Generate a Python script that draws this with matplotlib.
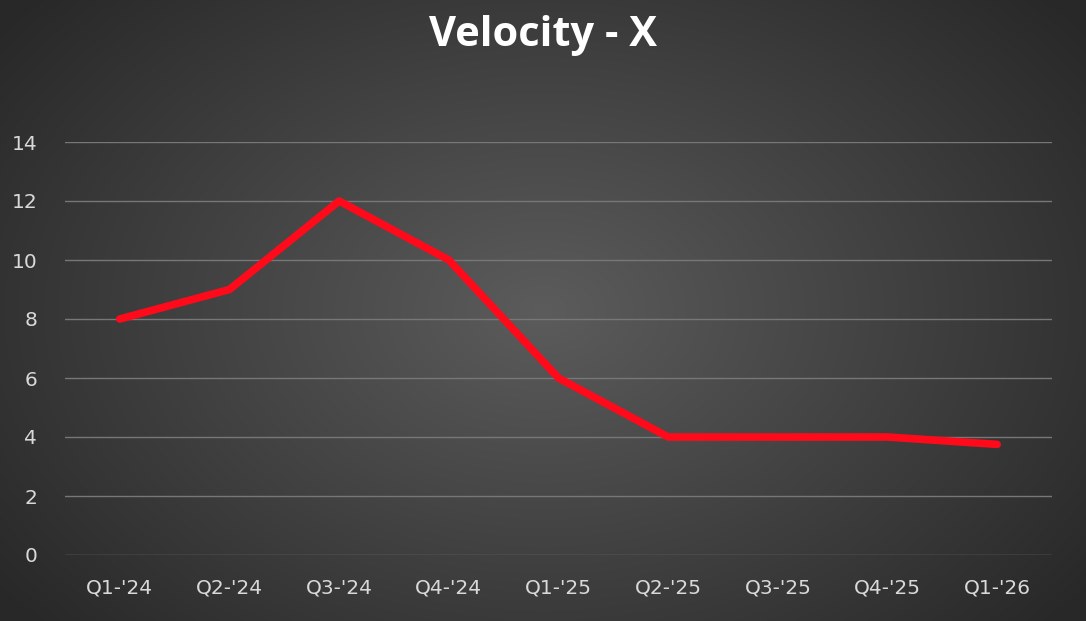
import numpy as np
import matplotlib
matplotlib.use("Agg")
import matplotlib.pyplot as plt

categories = ["Q1-'24","Q2-'24","Q3-'24","Q4-'24","Q1-'25","Q2-'25","Q3-'25","Q4-'25","Q1-'26"]
values = [8, 9, 12, 10, 6, 4, 4, 4, 3.75]
yticks = [0, 2, 4, 6, 8, 10, 12, 14]

W, H = 1086, 621
fig = plt.figure(figsize=(W/100, H/100), dpi=100)

bg = fig.add_axes([0, 0, 1, 1])
yy, xx = np.mgrid[0:H, 0:W]
r = np.sqrt(((xx - W/2)/(W*0.62))**2 + ((yy - H/2)/(H*0.75))**2)
r = np.clip(r, 0, 1)
c = 0.36 - 0.20*r
img = np.dstack([c, c, c])
bg.imshow(img, aspect='auto', extent=[0, 1, 0, 1])
bg.axis('off')

ax = fig.add_axes([65/W, 66/H, 987/W, 413/H])
ax.patch.set_alpha(0)
x = np.arange(len(categories))
ax.plot(x, values, color='#ff0a1a', lw=5.5, solid_capstyle='round', solid_joinstyle='round', zorder=3)
ax.set_xlim(-0.5, len(categories)-0.5)
ax.set_ylim(0, 14)
ax.set_yticks(yticks)
ax.set_xticks(x)
ax.set_xticklabels(categories)
ax.grid(axis='y', color='#777777', lw=1)
ax.tick_params(colors='#d9d9d9', labelsize=14.5, length=0, pad=17)
ax.tick_params(axis='y', pad=20)
for s in ax.spines.values():
    s.set_visible(False)
for lab in ax.get_yticklabels() + ax.get_xticklabels():
    lab.set_color('#d9d9d9')

fig.text(0.5, 1-35/H, "V e l o c i t y  -  X".replace(" ", "\u200a") if False else "Velocity - X",
         ha='center', va='center', color='white',
         fontsize=30, fontweight='bold', family='Open Sans')
fig.savefig("out.png", dpi=100)
